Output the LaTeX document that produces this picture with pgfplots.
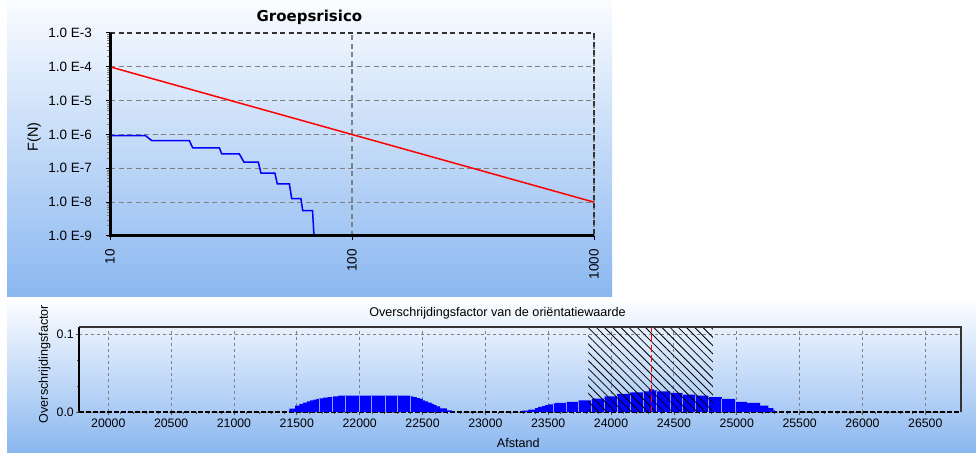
\documentclass[border=0pt]{standalone}
\usepackage{fontspec}
\setmainfont{Liberation Sans}
\newfontfamily\titlefont{DejaVu Sans}
\usepackage{pgfplots}
\usepackage{pgfplotstable}
\pgfplotsset{compat=1.18}
\usetikzlibrary{patterns.meta}
\definecolor{panelbot}{RGB}{138,183,240}
\definecolor{paneltop}{RGB}{250,252,255}
\definecolor{gridgray}{RGB}{128,128,128}
\definecolor{sepblue}{RGB}{140,160,255}

\pgfplotstableread{
x y
21420 0
21440 0.0043
21486 0.0081
21520 0.0103
21550 0.0120
21579 0.0137
21605 0.0150
21631 0.0159
21655 0.0168
21679 0.0175
21710 0.0185
21745 0.0193
21786 0.0201
21830 0.0210
22401 0.0201
22427 0.0193
22455 0.0180
22480 0.0168
22500 0.0150
22520 0.0137
22545 0.0120
22573 0.0103
22593 0.0090
22613 0.0072
22640 0.0047
22693 0.0020
22733 0
}\humpA

\pgfplotstableread{
x y
23280 0
23290 0.0017
23342 0.0030
23396 0.0051
23420 0.0065
23449 0.0077
23475 0.0090
23502 0.0098
23538 0.0108
23555 0.0116
23648 0.0129
23742 0.0150
23848 0.0171
23949 0.0201
24048 0.0232
24154 0.0253
24260 0.0265
24300 0.0290
24340 0.0278
24364 0.0265
24470 0.0245
24567 0.0223
24669 0.0210
24775 0.0193
24881 0.0168
24987 0.0129
25080 0.0116
25186 0.0081
25252 0.0051
25292 0.0020
25305 0
}\humpB

\begin{document}
\begin{tikzpicture}[x=1bp,y=1bp]
\path[use as bounding box] (0,0) rectangle (976,453);
\fill[white] (0,0) rectangle (976,453);
\shade[top color=paneltop, bottom color=panelbot] (7,156) rectangle (612,453);
\shade[top color=paneltop, bottom color=panelbot] (7,0) rectangle (976,150);

% ---------------- top chart ----------------
\begin{axis}[
  name=topax,
  at={(110bp,217bp)}, anchor=south west,
  scale only axis, width=484bp, height=203bp,
  xmode=log, ymode=log,
  xmin=10, xmax=1000, ymin=1e-9, ymax=1e-3,
  xtick={10,100,1000}, xticklabels={10,100,1000},
  ytick={1e-9,1e-8,1e-7,1e-6,1e-5,1e-4,1e-3},
  yticklabels={1.0 E-9,1.0 E-8,1.0 E-7,1.0 E-6,1.0 E-5,1.0 E-4,1.0 E-3},
  xminorticks=false,
  axis x line*=bottom, axis y line*=left,
  axis line style={black, line width=3bp, -},
  grid=major,
  major grid style={gridgray, line width=1.2bp, dash pattern=on 5bp off 3.5bp},
  tick align=outside, major tick length=4bp, minor tick length=3bp,
  major tick style={black, line width=1bp},
  minor tick style={gridgray, line width=0.7bp},
  tick label style={font=\fontsize{13.5bp}{15bp}\selectfont},
  xticklabel style={rotate=90, anchor=east, inner xsep=9bp},
  yticklabel style={inner xsep=14bp},
  every axis title shift=0pt,
  title={Groepsrisico},
  title style={font=\titlefont\bfseries\fontsize{15bp}{17bp}\selectfont, at={(axis description cs:0.412,1.079)}, anchor=center},
  ylabel={F(N)},
  ylabel style={font=\fontsize{14.5bp}{16bp}\selectfont, at={(axis description cs:-0.157,0.4877)}, anchor=center},
]
\addplot[red, line width=1.5bp] coordinates {(10,1e-4) (1000,1e-8)};
\addplot[blue, line width=1.5bp] coordinates {
(10,9.3e-7) (14,9.3e-7) (14.87,6.64e-7) (21.27,6.64e-7) (21.96,4.04e-7)
(28.3,4.04e-7) (28.94,2.69e-7) (34.2,2.69e-7) (35.78,1.53e-7)
(41.0,1.53e-7) (42.07,7.2e-8) (48.0,7.2e-8) (49.13,3.48e-8)
(55.1,3.48e-8) (56.33,1.28e-8) (61.5,1.28e-8) (62.56,5.64e-9)
(68.7,5.64e-9) (69.66,1e-9)};
\end{axis}
\draw[black!80, line width=1.5bp, dash pattern=on 5bp off 3.5bp] (topax.north west) -- (topax.north east) -- (topax.south east);
\draw[black, line width=3bp, solid] (110,453-33) -- (110,453-236) -- (594,453-236);

% ---------------- bottom chart ----------------
\begin{axis}[
  name=botax,
  at={(79bp,41bp)}, anchor=south west,
  scale only axis, width=882bp, height=85bp,
  xmin=19767, xmax=26784, ymin=0, ymax=0.1095,
  xtick={20000,20500,21000,21500,22000,22500,23000,23500,24000,24500,25000,25500,26000,26500},
  xticklabels={20000,20500,21000,21500,22000,22500,23000,23500,24000,24500,25000,25500,26000,26500},
  minor x tick num=4,
  ytick={0,0.1}, yticklabels={0.0,0.1},
  minor y tick num=2,
  scaled ticks=false,
  axis x line*=bottom, axis y line*=left,
  x axis line style={black, line width=1.8bp, dash pattern=on 5bp off 2bp, -},
  y axis line style={black, line width=2bp, -},
  xmajorgrids, ymajorgrids,
  major grid style={gridgray, line width=0.9bp, dash pattern=on 3bp off 3bp},
  tick align=outside, major tick length=3bp, minor tick length=2bp,
  major tick style={black!70, line width=0.8bp},
  minor tick style={black!70, line width=0.8bp},
  tick label style={font=\fontsize{12.3bp}{14bp}\selectfont},
  xticklabel style={inner ysep=4bp},
  yticklabel style={inner xsep=2bp},
  every axis title shift=0pt,
  title={Overschrijdingsfactor van de oriëntatiewaarde},
  title style={font=\fontsize{12.6bp}{14bp}\selectfont, at={(axis description cs:0.4745,1.165)}, anchor=center},
  xlabel={Afstand},
  xlabel style={font=\fontsize{12.6bp}{14bp}\selectfont, at={(axis description cs:0.498,-0.365)}, anchor=center},
  ylabel={Overschrijdingsfactor},
  ylabel style={font=\fontsize{12.6bp}{14bp}\selectfont, at={(axis description cs:-0.0391,0.565)}, anchor=center},
]
\addplot[const plot, fill=blue, draw=none] table {\humpA} \closedcycle;
\addplot[const plot, fill=blue, draw=none] table {\humpB} \closedcycle;
\addplot[ycomb, draw=sepblue, line width=1bp, mark=none] coordinates {
(21679,0.0168) (21786,0.0193) (21889,0.021) (21995,0.021) (22096,0.021)
(22202,0.021) (22300,0.021) (22401,0.0201)
(23538,0.0098) (23648,0.0116) (23742,0.0129) (23848,0.0150) (23949,0.0171)
(24048,0.0201) (24154,0.0232) (24260,0.0253) (24364,0.0265) (24470,0.0245)
(24567,0.0223) (24669,0.0210) (24775,0.0193) (24881,0.0168) (24987,0.0129)};
\addplot[draw=none, pattern={Lines[angle=-45,distance=5.8bp,line width=0.8bp]}, pattern color=black]
  coordinates {(23817,0) (23817,0.1095) (24809,0.1095) (24809,0)} \closedcycle;
\addplot[red, line width=1.2bp, dash pattern=on 7bp off 3bp] coordinates {(24321,0) (24321,0.1095)};
\end{axis}
\draw[black!80, line width=1.3bp] (botax.north west) -- (botax.north east) -- (botax.south east);
\end{tikzpicture}
\end{document}
